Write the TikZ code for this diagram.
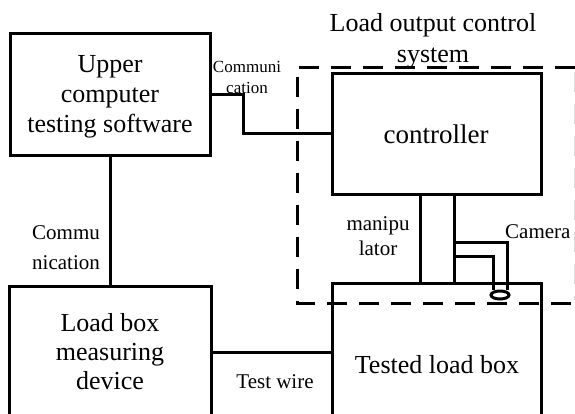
\documentclass[tikz,border=0pt]{standalone}
\usepackage{fontspec}
\setmainfont{Liberation Serif}
\usetikzlibrary{shapes.geometric}
\begin{document}
\begin{tikzpicture}[x=1pt,y=-1pt,
  wire/.style={line width=3pt, line cap=rect},
  block/.style={draw, line width=3pt, inner sep=0pt},
  txt/.style={align=center, inner sep=0pt, font=\fontsize{26}{30}\selectfont},
  lbl/.style={align=center, inner sep=0pt, font=\fontsize{21}{30}\selectfont},
  frame/.style={line width=3pt, dash pattern=on 20pt off 12pt}]
\useasboundingbox (0,0) rectangle (575,413);
\clip (0,0) rectangle (575,413);

% main blocks
\node[block, minimum width=200pt, minimum height=122pt] (upper) at (110,94) {};
\node[block, minimum width=209pt, minimum height=121pt] (ctrl) at (436.5,133.5) {};
\node[block, minimum width=202pt, minimum height=144pt] (meas) at (110,358) {};
\node[block, minimum width=209pt, minimum height=147pt] (tested) at (436.5,356.5) {};

% block captions
\node[txt] (upperT) at (110,97) {Upper\\computer\\testing software};
\node[txt, font=\fontsize{27}{30}\selectfont] (ctrlT) at (436,134) {controller};
\node[txt, font=\fontsize{26}{29}\selectfont] (measT) at (110,352) {Load box\\measuring\\device};
\node[txt] (testedT) at (437,365) {Tested load box};

% dashed boundary of the control system
\draw[frame] (575,67) -- (297,67) -- (297,303) -- (575,303);
\draw[line width=1pt, black!15, dash pattern=on 20pt off 12pt] (574.5,72) -- (574.5,300);
\node[align=center, font=\fontsize{26}{31}\selectfont] (title) at (433,40.5)
  {Load output control\\system};

% communication links
\draw[wire] (upper.east) -- ++(32,0) coordinate (bend) |- (ctrl.west);
\node[align=center, inner sep=0pt, font=\fontsize{17}{21}\selectfont] (c1) at (247,77)
  {Communi\\cation};
\draw[wire] (upper.south) -- (upper.south |- meas.north);
\node[lbl, align=right] (c2) at (66,248) {Commu\\nication};

% test wire
\coordinate (tw) at (0,352);
\draw[wire] (meas.east |- tw) -- (tested.west |- tw);
\node[lbl] (twl) at (275,382) {Test wire};

% manipulator
\coordinate (m1) at (420,0);
\coordinate (m2) at (454,0);
\draw[wire] (ctrl.south -| m1) -- (tested.north -| m1);
\draw[wire] (ctrl.south -| m2) -- (tested.north -| m2);
\node[lbl, font=\fontsize{21}{25}\selectfont] (manip) at (378,236) {manipu\\lator};

% camera
\node[draw, ellipse, line width=3pt, minimum width=18pt, minimum height=8pt,
  inner sep=0pt] (cam) at (500,295) {};
\draw[wire, line cap=butt] (m2 |- 0,242) -| ([xshift=7pt]cam.north);
\draw[wire, line cap=butt] (m2 |- 0,256) -| ([xshift=-7pt]cam.north);
\node[lbl, anchor=west] (camlbl) at (505,232) {Camera};
\end{tikzpicture}
\end{document}
